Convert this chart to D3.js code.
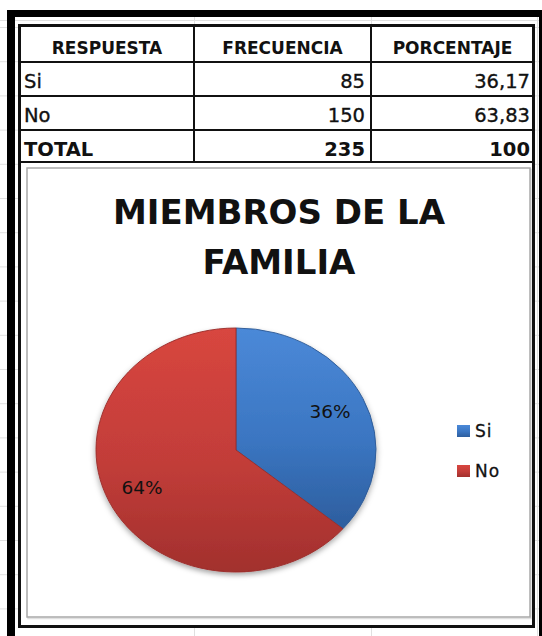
<!DOCTYPE html>
<html><head><meta charset="utf-8">
<script src="https://cdn.jsdelivr.net/npm/d3@7"></script>
<style>body{margin:0;background:#fff}svg{display:block}</style>
</head><body>
<svg id="c" width="542" height="636"></svg>
<script>
// ---- data ----
const headers = ["RESPUESTA", "FRECUENCIA", "PORCENTAJE"];
const categories = ["Si", "No"];
const frequencies = [85, 150];
const percentages = ["36,17", "63,83"];
const totalRow = ["TOTAL", "235", "100"];
const titleLines = ["MIEMBROS DE LA", "FAMILIA"];

const svg = d3.select("#c");
const defs = svg.append("defs");

// ---- spreadsheet gridlines (background) ----
const grid = svg.append("g").attr("stroke", "#e0e0e0").attr("stroke-width", 1);
const rowYs = [20].concat(d3.range(0, 19).map(i => 27 + i * 34.2));
grid.selectAll("line.h").data(rowYs).join("line")
  .attr("x1", 0).attr("x2", 542).attr("y1", d => d + 0.5).attr("y2", d => d + 0.5);
grid.selectAll("line.v").data([194, 371, 537]).join("line")
  .attr("x1", d => d + 0.5).attr("x2", d => d + 0.5).attr("y1", 17).attr("y2", 636);

// ---- table ----
const colX = [20, 194, 371, 534];
const rowY = [26, 62, 96, 130, 162];
const tbl = svg.append("g");
tbl.append("rect").attr("x", 20).attr("y", 26).attr("width", 514).attr("height", 602).attr("fill", "#fff");

const font = "'DejaVu Sans', Verdana, sans-serif";
tbl.selectAll("text.hdr").data(headers).join("text")
  .attr("x", (d, i) => (colX[i] + colX[i + 1]) / 2)
  .attr("y", 54)
  .attr("text-anchor", "middle")
  .attr("font-family", font).attr("font-weight", "bold").attr("font-size", 17)
  .attr("fill", "#111").text(d => d);

const rows = categories.map((c, i) => [c, String(frequencies[i]), percentages[i]]);
rows.push(totalRow);
rows.forEach((r, ri) => {
  const base = rowY[ri + 1] + 26;
  const bold = ri === rows.length - 1;
  const g = tbl.append("g").attr("font-family", font).attr("font-size", 19.5)
    .attr("font-weight", bold ? "bold" : "normal").attr("fill", "#111")
    .attr("stroke", bold ? "none" : "#111").attr("stroke-width", 0.35);
  g.append("text").attr("x", 24).attr("y", base).text(r[0]);
  g.append("text").attr("x", 365).attr("y", base).attr("text-anchor", "end").text(r[1]);
  g.append("text").attr("x", 530).attr("y", base).attr("text-anchor", "end").text(r[2]);
});

const lines = tbl.append("g").attr("stroke", "#111");
lines.selectAll("line.r").data(rowY.slice(1)).join("line")
  .attr("x1", 20).attr("x2", 534).attr("y1", d => d).attr("y2", d => d).attr("stroke-width", 2);
lines.selectAll("line.c").data([194, 371]).join("line")
  .attr("x1", d => d).attr("x2", d => d).attr("y1", 26).attr("y2", 162).attr("stroke-width", 2);
lines.append("rect").attr("x", 19.5).attr("y", 25.5).attr("width", 514).attr("height", 601)
  .attr("fill", "none").attr("stroke-width", 3);

// ---- chart area ----
svg.append("rect").attr("x", 28).attr("y", 169.5).attr("width", 503).attr("height", 449)
  .attr("fill", "none").attr("stroke", "#e0e0e0").attr("stroke-width", 1.5);
svg.append("rect").attr("x", 27).attr("y", 168).attr("width", 503).attr("height", 449)
  .attr("fill", "#fff").attr("stroke", "#a8a8a8").attr("stroke-width", 1.5);

svg.append("text").attr("x", 279).attr("text-anchor", "middle")
  .attr("font-family", font).attr("font-weight", "bold").attr("font-size", 34).attr("fill", "#111")
  .selectAll("tspan").data(titleLines).join("tspan")
  .attr("x", 279).attr("y", (d, i) => 224 + i * 50).text(d => d);

// gradients
const grads = [["#4b89d8", "#3b76c2", "#2d5e9e"], ["#d8463f", "#c23d39", "#a2302d"]];
grads.forEach((g, i) => {
  const lg = defs.append("linearGradient").attr("id", "g" + i)
    .attr("x1", 0).attr("y1", 0).attr("x2", 0).attr("y2", 1);
  lg.append("stop").attr("offset", "0%").attr("stop-color", g[0]);
  lg.append("stop").attr("offset", "55%").attr("stop-color", g[1]);
  lg.append("stop").attr("offset", "100%").attr("stop-color", g[2]);
});
const f = defs.append("filter").attr("id", "sh").attr("x", "-20%").attr("y", "-20%").attr("width", "140%").attr("height", "140%");
f.append("feDropShadow").attr("dx", 0).attr("dy", 3).attr("stdDeviation", 3).attr("flood-color", "#000").attr("flood-opacity", 0.35);

// pie
const cx = 236, cy = 450, rx = 140, ry = 122;
const pie = d3.pie().sort(null).value(d => d)(frequencies);
const arc = d3.arc().innerRadius(0).outerRadius(rx);
const pg = svg.append("g").attr("transform", `translate(${cx},${cy}) scale(1,${ry / rx})`)
  .attr("filter", "url(#sh)");
pg.selectAll("path").data(pie).join("path")
  .attr("d", arc)
  .attr("fill", (d, i) => `url(#g${i})`)
  .attr("stroke", (d, i) => i === 0 ? "#2d5a96" : "#9a2e2c")
  .attr("stroke-width", 1);

const total = d3.sum(frequencies);
svg.append("g").selectAll("text").data(pie).join("text")
  .attr("x", d => cx + 0.74 * rx * Math.sin((d.startAngle + d.endAngle) / 2))
  .attr("y", d => cy - 0.74 * ry * Math.cos((d.startAngle + d.endAngle) / 2) + 6)
  .attr("text-anchor", "middle")
  .attr("font-family", font).attr("font-size", 18.5).attr("fill", "#111")
  .text(d => Math.round(d.value / total * 100) + "%");

// legend
const lgd = svg.append("g");
categories.forEach((c, i) => {
  const y = 425 + i * 40;
  lgd.append("rect").attr("x", 457).attr("y", y).attr("width", 13).attr("height", 12)
    .attr("fill", `url(#g${i})`);
  lgd.append("text").attr("x", 475).attr("y", y + 12)
    .attr("font-family", font).attr("font-size", 17).attr("letter-spacing", 1)
    .attr("stroke", "#111").attr("stroke-width", 0.3).attr("fill", "#111").text(c);
});

// ---- outer thick frame ----
const fr = svg.append("g").attr("fill", "#000");
fr.append("rect").attr("x", 7).attr("y", 10).attr("width", 8).attr("height", 626);
fr.append("rect").attr("x", 7).attr("y", 10).attr("width", 535).attr("height", 7);
fr.append("rect").attr("x", 539).attr("y", 10).attr("width", 3).attr("height", 626);
</script>
</body></html>
